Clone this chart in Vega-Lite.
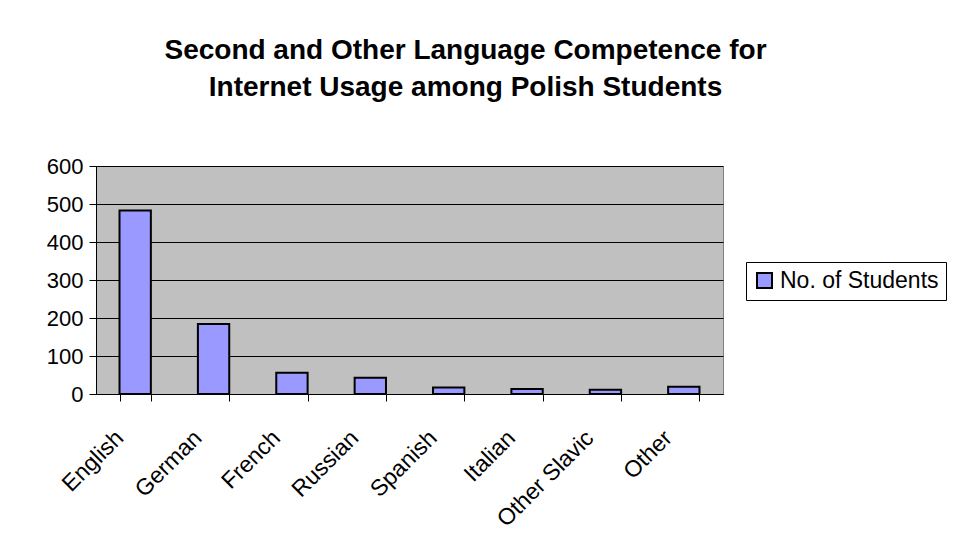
{
  "$schema": "https://vega.github.io/schema/vega-lite/v6.json",
  "autosize": "none",
  "width": 627,
  "height": 228,
  "padding": {"left": 96, "top": 166, "right": 233, "bottom": 160},
  "background": "white",
  "title": {
    "text": ["Second and Other Language Competence for", "Internet Usage among Polish Students"],
    "font": "Liberation Sans",
    "fontSize": 28,
    "fontWeight": "bold",
    "color": "black",
    "anchor": "middle",
    "dx": 56,
    "lineHeight": 37,
    "offset": 53
  },
  "data": {
    "values": [
      {"language": "English", "series": "No. of Students", "students": 483},
      {"language": "German", "series": "No. of Students", "students": 184},
      {"language": "French", "series": "No. of Students", "students": 56},
      {"language": "Russian", "series": "No. of Students", "students": 43},
      {"language": "Spanish", "series": "No. of Students", "students": 17},
      {"language": "Italian", "series": "No. of Students", "students": 13},
      {"language": "Other Slavic", "series": "No. of Students", "students": 11},
      {"language": "Other", "series": "No. of Students", "students": 19}
    ]
  },
  "mark": {"type": "bar", "stroke": "black", "strokeWidth": 2},
  "encoding": {
    "x": {
      "field": "language",
      "type": "nominal",
      "sort": null,
      "scale": {"paddingInner": 0.6, "paddingOuter": 0.3},
      "axis": {
        "title": null,
        "labelAngle": -45,
        "labelAlign": "right",
        "labelBaseline": "alphabetic",
        "labelFont": "Liberation Sans",
        "labelFontSize": 23,
        "labelColor": "black",
        "labelPadding": 38,
        "labelOffset": -11,
        "labelLimit": 300,
        "tickBand": "extent",
        "tickColor": "black",
        "tickSize": 7,
        "domainColor": "black",
        "domainWidth": 1,
        "grid": false
      }
    },
    "y": {
      "field": "students",
      "type": "quantitative",
      "scale": {"domain": [0, 600], "nice": false},
      "axis": {
        "title": null,
        "values": [0, 100, 200, 300, 400, 500, 600],
        "labelFont": "Liberation Sans",
        "labelFontSize": 22,
        "labelColor": "black",
        "labelPadding": 6,
        "tickColor": "black",
        "tickSize": 7,
        "domainColor": "black",
        "gridColor": "black",
        "gridWidth": 1,
        "gridOpacity": 1
      }
    },
    "fill": {
      "field": "series",
      "type": "nominal",
      "scale": {"range": ["#9999ff"]},
      "legend": {
        "title": null,
        "orient": "none",
        "legendX": 650,
        "legendY": 96,
        "symbolType": "square",
        "symbolSize": 225,
        "symbolStrokeColor": "black",
        "symbolStrokeWidth": 2,
        "symbolOpacity": 1,
        "labelFont": "Liberation Sans",
        "labelFontSize": 23,
        "labelColor": "black",
        "labelLimit": 300,
        "strokeColor": "black",
        "padding": 7,
        "fillColor": "white"
      }
    }
  },
  "config": {
    "view": {"fill": "#c0c0c0", "stroke": "#808080", "strokeWidth": 1}
  }
}
